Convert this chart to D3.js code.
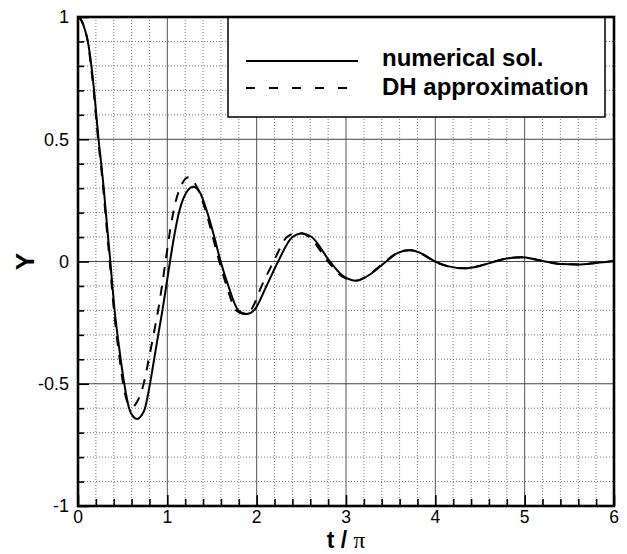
<!DOCTYPE html>
<html>
<head>
<meta charset="utf-8">
<script src="https://cdn.jsdelivr.net/npm/d3@7"></script>
<style>
  html, body { margin: 0; padding: 0; background: #fff; }
  svg { display: block; }
  text { font-family: "Liberation Sans", Arial, sans-serif; }
</style>
</head>
<body>
<svg id="chart" width="627" height="554"></svg>
<script>
// Damped response Y(t) versus t/π: numerical solution and DH approximation
const numT = [0, 0.04, 0.08, 0.11, 0.15, 0.18, 0.205, 0.23, 0.26, 0.288, 0.312, 0.337, 0.362,
  0.385, 0.41, 0.442, 0.478, 0.518, 0.572, 0.62, 0.664, 0.71, 0.75, 0.806, 0.852, 0.898, 0.945,
  0.988, 1.03, 1.075, 1.13, 1.235, 1.29, 1.35, 1.448, 1.526, 1.597, 1.683, 1.795, 1.888, 1.97,
  2.11, 2.24, 2.40, 2.504, 2.616, 2.82, 2.97, 3.12, 3.28, 3.45, 3.58, 3.717, 3.86, 3.997, 4.15,
  4.33, 4.50, 4.668, 4.80, 4.967, 5.10, 5.228, 5.40, 5.60, 5.80, 6.00];
const numY = [1.000, 0.985, 0.945, 0.900, 0.800, 0.700, 0.600, 0.500, 0.400, 0.300, 0.200, 0.100, 0.000,
  -0.100, -0.200, -0.300, -0.400, -0.500, -0.600, -0.635, -0.644, -0.630, -0.600, -0.500, -0.400, -0.300, -0.200,
  -0.100, 0.000, 0.100, 0.200, 0.294, 0.306, 0.292, 0.200, 0.100, 0.000, -0.100, -0.200, -0.215, -0.200,
  -0.100, 0.000, 0.100, 0.115, 0.100, 0.000, -0.060, -0.079, -0.050, 0.000, 0.035, 0.047, 0.030, 0.000, -0.020,
  -0.028, -0.018, 0.000, 0.012, 0.017, 0.010, 0.000, -0.010, -0.012, -0.006, 0.002];

const dhT = [0, 0.04, 0.08, 0.11, 0.145, 0.175, 0.20, 0.225, 0.255, 0.282, 0.306, 0.33, 0.355,
  0.378, 0.402, 0.432, 0.467, 0.505, 0.56, 0.61, 0.66, 0.735, 0.792, 0.845, 0.897, 0.94, 0.98,
  1.03, 1.09, 1.16, 1.235, 1.30, 1.36, 1.435, 1.51, 1.582, 1.664, 1.77, 1.87, 1.95, 2.056, 2.19,
  2.34, 2.466, 2.59, 2.80, 2.96, 3.11, 3.27, 3.44, 3.57, 3.71, 3.85, 3.99, 4.14, 4.32, 4.49, 4.66,
  4.79, 4.96, 5.09, 5.22, 5.39, 5.59, 5.79, 6.00];
const dhY = [1.000, 0.985, 0.945, 0.900, 0.800, 0.700, 0.600, 0.500, 0.400, 0.300, 0.200, 0.100, 0.000,
  -0.100, -0.200, -0.300, -0.400, -0.500, -0.580, -0.594, -0.575, -0.500, -0.400, -0.300, -0.200, -0.100, 0.000,
  0.125, 0.240, 0.315, 0.345, 0.325, 0.280, 0.200, 0.100, 0.000, -0.100, -0.200, -0.215, -0.190, -0.100, 0.000,
  0.100, 0.118, 0.100, 0.000, -0.062, -0.078, -0.050, 0.000, 0.035, 0.046, 0.030, 0.000, -0.020, -0.028, -0.018, 0.000,
  0.012, 0.017, 0.010, 0.000, -0.010, -0.012, -0.006, 0.002];

const xTicks = [0, 1, 2, 3, 4, 5, 6];
const yTicks = [-1, -0.5, 0, 0.5, 1];
const yTickLabels = ["-1", "-0.5", "0", "0.5", "1"];
const legendLabels = ["numerical sol.", "DH approximation"];

const svg = d3.select("#chart");
const plotL = 78, plotR = 614, plotT = 17, plotB = 506;

const x = d3.scaleLinear().domain([0, 6]).range([plotL, plotR]);
const y = d3.scaleLinear().domain([-1, 1]).range([plotB, plotT]);

// minor grid (dotted)
const xMinor = d3.range(0, 6.0001, 0.2).filter(v => Math.abs(v - Math.round(v)) > 1e-6);
const yMinor = d3.range(-1, 1.0001, 0.1).filter(v => Math.abs(v * 2 - Math.round(v * 2)) > 1e-6);
const grid = svg.append("g");
grid.selectAll(".vmin").data(xMinor).join("line")
  .attr("x1", d => x(d)).attr("x2", d => x(d)).attr("y1", plotT).attr("y2", plotB)
  .attr("stroke", "#777").attr("stroke-width", 1).attr("stroke-dasharray", "1,2");
grid.selectAll(".hmin").data(yMinor).join("line")
  .attr("x1", plotL).attr("x2", plotR).attr("y1", d => y(d)).attr("y2", d => y(d))
  .attr("stroke", "#777").attr("stroke-width", 1).attr("stroke-dasharray", "1,2");
// major grid (solid)
grid.selectAll(".vmaj").data(xTicks.slice(1, -1)).join("line")
  .attr("x1", d => x(d)).attr("x2", d => x(d)).attr("y1", plotT).attr("y2", plotB)
  .attr("stroke", "#555").attr("stroke-width", 1);
grid.selectAll(".hmaj").data(yTicks.slice(1, -1)).join("line")
  .attr("x1", plotL).attr("x2", plotR).attr("y1", d => y(d)).attr("y2", d => y(d))
  .attr("stroke", "#444").attr("stroke-width", 1);

// curves
const line = d3.line().x(d => x(d[0])).y(d => y(d[1])).curve(d3.curveMonotoneX);
svg.append("clipPath").attr("id", "plotclip")
  .append("rect").attr("x", plotL).attr("y", plotT).attr("width", plotR - plotL).attr("height", plotB - plotT);
const curves = svg.append("g").attr("clip-path", "url(#plotclip)");
curves.append("path").datum(d3.zip(dhT, dhY)).attr("d", line)
  .attr("fill", "none").attr("stroke", "#000").attr("stroke-width", 2).attr("stroke-dasharray", "10,9");
curves.append("path").datum(d3.zip(numT, numY)).attr("d", line)
  .attr("fill", "none").attr("stroke", "#000").attr("stroke-width", 2);

// inward ticks on left and bottom axes
const axL = d3.axisRight(y).tickValues(yTicks).tickSize(11).tickFormat("");
const axLm = d3.axisRight(y).tickValues(yMinor).tickSize(6).tickFormat("");
const axB = d3.axisTop(x).tickValues(xTicks).tickSize(11).tickFormat("");
const axBm = d3.axisTop(x).tickValues(xMinor).tickSize(7).tickFormat("");
[[axL, `translate(${plotL},0)`], [axLm, `translate(${plotL},0)`], [axB, `translate(0,${plotB})`], [axBm, `translate(0,${plotB})`]]
  .forEach(([ax, tr]) => {
    const g = svg.append("g").attr("transform", tr).call(ax);
    g.select(".domain").remove();
    g.selectAll("line").attr("stroke", "#000").attr("stroke-width", 1.6);
  });

// tick labels
svg.append("g").selectAll("text").data(yTicks).join("text")
  .attr("x", plotL - 9).attr("y", d => y(d)).attr("dy", "0.36em")
  .attr("text-anchor", "end").attr("font-size", 18).text((d, i) => yTickLabels[i]);
svg.append("g").selectAll("text").data(xTicks).join("text")
  .attr("x", d => x(d)).attr("y", 523)
  .attr("text-anchor", "middle").attr("font-size", 17.5).text(d => d);

// legend
const lg = svg.append("g");
lg.append("rect").attr("x", 228).attr("y", plotT).attr("width", 377).attr("height", 100)
  .attr("fill", "#fff").attr("stroke", "#000").attr("stroke-width", 1.5);
lg.append("line").attr("x1", 246).attr("x2", 358).attr("y1", 61).attr("y2", 61)
  .attr("stroke", "#000").attr("stroke-width", 2);
lg.append("line").attr("x1", 246).attr("x2", 358).attr("y1", 88).attr("y2", 88)
  .attr("stroke", "#000").attr("stroke-width", 2).attr("stroke-dasharray", "9,14");
lg.selectAll("text").data(legendLabels).join("text")
  .attr("x", 382).attr("y", (d, i) => [66, 95][i])
  .attr("font-size", 24).attr("font-weight", "bold").text(d => d);

// plot frame
svg.append("rect").attr("x", plotL).attr("y", plotT).attr("width", plotR - plotL).attr("height", plotB - plotT)
  .attr("fill", "none").attr("stroke", "#000").attr("stroke-width", 2.6);

// axis titles
svg.append("text").attr("transform", `translate(34,${y(0)}) rotate(-90)`)
  .attr("text-anchor", "middle").attr("font-size", 26).attr("font-weight", "bold").text("Y");
const xt = svg.append("text").attr("x", x(3)).attr("y", 548).attr("text-anchor", "middle")
  .attr("font-size", 23).attr("font-weight", "bold");
xt.append("tspan").text("t / ");
xt.append("tspan").attr("font-weight", "normal").attr("font-family", "Liberation Serif, serif").text("π");
</script>
</body>
</html>
